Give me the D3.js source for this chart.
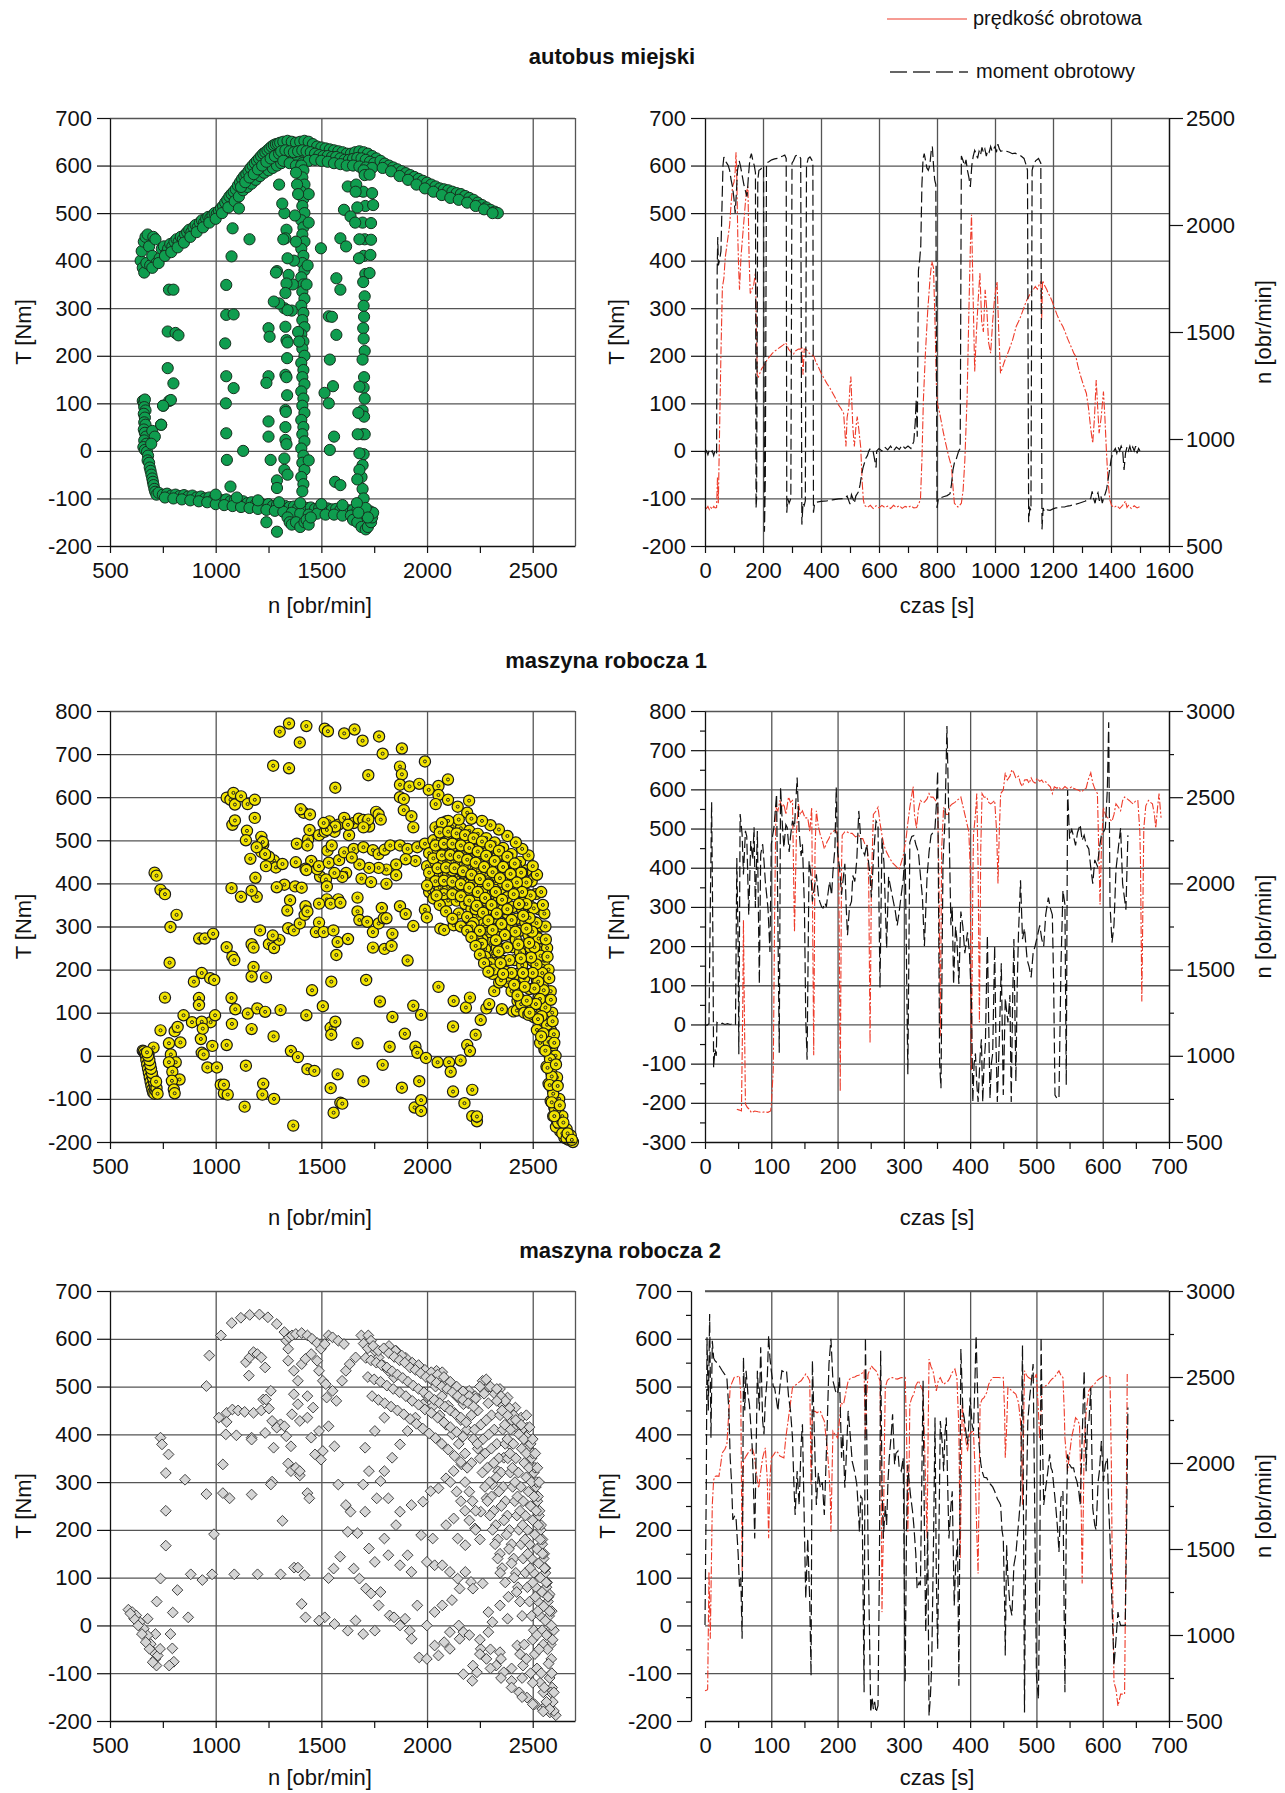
<!DOCTYPE html>
<html>
<head>
<meta charset="utf-8">
<script src="https://cdn.jsdelivr.net/npm/d3@7"></script>
<style>
  body { margin: 0; background: #fff; }
  text { font-family: "Liberation Sans", Arial, sans-serif; fill: #111; }
</style>
</head>
<body>
<div id="chart"></div>
<script>
'use strict';

// ---- data: [n obr/min, T Nm] points ----
const busPoints = [
  // rising band
  [645,400],[650,420],[655,385],[660,440],[662,375],[668,450],[672,395],[678,455],[685,430],[690,390],[700,410],[705,450],[715,445],[720,395],
  [735,405],[745,425],[755,430],[765,415],[775,425],[785,435],[795,430],[805,440],[815,445],[825,440],[835,450],[845,445],[855,455],[865,460],
  [875,465],[885,460],[895,470],[905,475],[915,470],[925,480],[935,485],[945,480],[955,488],[965,492],[975,490],[985,495],[995,500],[1005,498],
  [1015,505],[1025,510],[1035,515],[1045,522],[1055,528],[1065,535],[1075,540],[1085,545],[1095,550],[1105,558],[1115,565],[1125,572],[1135,578],
  [1145,582],[1155,588],[1165,595],[1175,600],[1185,605],[1195,610],[1205,615],[1215,620],[1225,625],[1235,628],[1245,632],[1255,636],[1265,640],
  [1275,643],[1285,645],[1295,646],[1305,648],
  [700,385],[730,395],[760,410],[790,418],[820,428],[850,438],[880,450],[910,460],[940,470],[970,480],[1000,488],[1030,500],[1060,512],[1090,525],
  [1110,535],[1130,548],[1150,555],[1170,562],[1190,570],[1210,578],[1230,585],[1250,590],[1270,595],[1290,600],[1310,605],[1330,610],[1350,612],
  [1370,614],[1390,615],
  [1120,555],[1140,565],[1160,575],[1180,582],[1200,592],[1220,600],[1240,608],[1260,615],[1280,620],[1300,625],
  // flat top
  [1320,650],[1340,652],[1360,650],[1380,648],[1400,650],[1420,652],[1440,650],[1460,645],[1480,640],[1500,638],[1520,636],[1540,634],[1560,632],
  [1580,630],[1600,628],[1620,625],[1640,625],[1660,628],[1680,630],[1700,628],[1720,625],[1740,620],[1760,615],
  [1310,630],[1330,632],[1350,630],[1370,628],[1390,630],[1410,632],[1430,630],[1450,628],[1470,625],[1490,622],[1510,620],[1530,620],[1550,618],
  [1570,618],[1590,615],[1610,612],[1630,612],[1650,614],[1670,616],[1690,615],[1710,612],[1730,608],[1750,605],
  [1320,610],[1350,605],[1380,600],[1410,605],[1440,610],[1470,612],[1500,610],[1530,608],[1560,605],[1590,603],[1620,600],[1650,600],[1680,598],
  [1710,596],[1740,595],
  // falling band
  [1780,610],[1800,604],[1820,600],[1840,596],[1860,592],[1880,588],[1900,584],[1920,580],[1940,576],[1960,572],[1980,568],[2000,564],[2020,560],
  [2040,556],[2060,552],[2080,550],[2100,548],[2120,545],[2140,542],[2160,540],[2180,536],[2200,532],[2220,528],[2240,522],[2260,517],[2280,512],
  [2300,507],[2320,503],[2335,500],
  [1790,595],[1830,588],[1870,578],[1910,570],[1950,560],[1990,552],[2030,545],[2070,538],[2110,532],[2150,528],[2190,522],[2230,515],[2270,508],[2310,500],
  // idle corner
  [655,105],[660,100],[665,108],[662,92],[668,85],[660,78],[665,70],[662,60],[668,55],[660,45],[665,38],[670,30],[662,22],[672,15],[658,8],[665,2],
  [675,-2],[680,-10],[678,-20],[685,-25],[688,-35],[692,-42],[696,-50],[700,-58],[703,-65],[706,-72],[710,-80],[714,-86],[720,-92],[700,42],[712,30],
  [695,15],[742,55],[752,95],[780,105],
  // motoring-off band
  [730,-88],[750,-92],[770,-90],[790,-94],[810,-92],[830,-95],[850,-93],[870,-96],[890,-94],[910,-98],[930,-96],[950,-100],[970,-98],[990,-102],
  [1010,-100],[1030,-104],[1050,-102],[1070,-106],[1090,-104],[1110,-108],[1130,-106],[1150,-110],[1170,-108],[1190,-112],[1210,-110],[1230,-114],
  [1250,-112],[1270,-116],[1290,-114],[1310,-118],[1330,-116],[1350,-118],[1370,-117],[1390,-120],[1410,-118],[1430,-120],[1450,-119],[1470,-122],
  [1490,-120],[1510,-122],[1530,-121],[1550,-123],[1570,-122],[1590,-124],[1610,-123],[1630,-125],[1650,-124],[1670,-126],[1690,-125],[1710,-128],[1730,-127],
  [760,-98],[800,-100],[840,-102],[880,-104],[920,-106],[960,-108],[1000,-112],[1040,-114],[1080,-116],[1120,-118],[1160,-120],[1200,-122],[1240,-124],
  [1280,-126],[1320,-128],[1360,-130],[1400,-132],[1440,-134],[1480,-132],[1520,-134],[1560,-134],[1600,-136],[1640,-136],[1680,-138],[1720,-140],
  [1340,-140],[1350,-150],[1360,-155],[1380,-150],[1400,-160],[1420,-150],[1430,-145],[1440,-155],[1450,-140],[1650,-145],[1670,-150],[1690,-160],
  [1710,-165],[1720,-160],[1735,-150],[1740,-140],[1745,-130],[1240,-150],[1290,-170],
  [1000,-92],[1100,-98],[1200,-104],[1300,-108],[1400,-110],[1500,-112],[1600,-114],[1700,-118],
  // column at ~1410
  [1405,600],[1415,590],[1410,575],[1420,560],[1405,545],[1415,530],[1410,515],[1420,500],[1405,485],[1415,470],[1410,455],[1420,440],[1405,425],
  [1415,410],[1410,395],[1420,380],[1405,365],[1415,350],[1410,335],[1420,320],[1405,305],[1415,290],[1410,275],[1420,260],[1405,245],[1415,230],
  [1410,215],[1420,200],[1405,185],[1415,170],[1410,155],[1420,140],[1405,125],[1415,110],[1410,95],[1420,80],[1405,65],[1415,50],[1410,35],[1420,20],
  [1405,5],[1415,-10],[1410,-25],[1420,-40],[1405,-55],[1415,-70],[1410,-85],[1440,540],[1440,480],[1435,390],[1430,350],[1440,-20],
  [1380,585],[1385,560],[1390,540],[1375,495],[1380,440],[1370,400],[1365,350],[1360,295],[1390,250],[1395,230],
  // column at ~1340
  [1325,500],[1335,465],[1330,447],[1340,405],[1345,370],[1335,352],[1330,332],[1325,300],[1340,296],[1330,261],[1335,233],[1340,228],[1338,195],
  [1330,160],[1335,155],[1338,117],[1330,86],[1332,82],[1330,50],[1330,23],[1335,14],[1325,-16],[1325,-40],[1340,-50],[1300,560],[1315,520],[1320,445],[1300,310],
  // scattered
  [1050,349],[1050,286],[1045,226],[1050,157],[1048,100],[1050,37],[1053,-19],[1070,-75],[1080,468],[1075,409],[1085,287],[1085,132],[1130,0],[1160,445],[1110,510],
  [1290,378],[1285,375],[1275,314],[1250,258],[1255,240],[1250,157],[1240,143],[1250,62],[1250,30],[1260,-19],[1290,-62],[1290,-78],
  [1571,363],[1590,339],[1535,283],[1550,282],[1571,244],[1540,192],[1555,136],[1515,122],[1535,100],[1560,30],[1540,2],[1565,-65],[1590,-72],
  [1498,426],[1590,447],[1617,430],[1607,507],[1638,493],[1625,556],[1671,546],
  [779,339],[800,339],[773,251],[810,248],[824,243],[773,174],[800,142],[788,107],[751,95],[742,55],
  // column at ~1700
  [1700,590],[1705,580],[1698,545],[1708,515],[1695,480],[1705,445],[1700,410],[1708,372],[1698,355],[1705,325],[1700,305],[1702,282],[1698,258],
  [1700,236],[1705,210],[1695,192],[1702,155],[1700,133],[1705,110],[1695,85],[1702,72],[1695,35],[1705,35],[1700,-7],[1695,-30],[1690,-55],[1695,-80],
  [1700,-100],[1710,-120],[1720,-140],[1728,581],[1740,542],[1745,517],[1735,479],[1735,444],[1732,412],[1728,374],
  [1665,560],[1662,545],[1670,512],[1660,480],[1680,445],[1678,405],[1680,135],[1675,80],[1672,35],[1680,-5],[1680,-40],[1670,-60],[1668,-110],[1675,-130]
];

const mr1Points = [
  [1303,752],[1347,771],[1429,765],[1398,727],[1516,759],[1531,753],[1608,748],[1657,757],[1695,731],[1773,741],[1790,701],[1881,713],[1990,683],
  [2099,641],[1272,673],[1347,667],[1566,622],[1722,651],
  [1872,671],[1881,653],[1872,629],[1917,625],[1963,631],[2008,617],[2054,626],[2054,605],[1872,600],[1890,596],[1890,570],[1926,556],[1935,530],
  [2041,584],[2099,594],[2145,578],[2190,564],[2199,592],[2090,544],
  [1052,599],[1070,594],[1084,610],[1091,583],[1120,602],[1151,584],[1185,594],[1079,536],[1091,546],[1185,552],[1148,522],[1143,500],[1216,508],
  [1225,490],[1216,473],[1164,457],[1188,413],[1194,369],[1120,369],[1075,389],[1170,383],[1276,453],[1285,437],[1316,445],[1325,397],[1376,393],
  [1352,361],[1339,337],[1343,296],[1370,291],[1398,307],[1407,390],[1379,449],[1384,492],[1437,502],[1444,524],[1434,488],[1416,564],[1402,572],
  [1446,560],[1452,452],[1425,434],[1429,431],[1425,347],[1421,327],[1434,335],[1252,462],[1238,440],[1234,468],[1289,391],[1223,496],[1194,484],
  [1489,512],[1516,520],[1538,544],[1562,520],[1580,536],[1608,552],[1631,512],[1653,540],[1677,550],[1699,547],[1726,532],[1759,566],[1771,560],
  [1781,548],[1722,548],[1699,530],[1626,536],[1566,532],[1526,524],[1511,540],[1529,476],[1549,488],[1494,416],[1480,433],
  [1489,440],[1535,448],[1584,454],[1608,472],[1653,480],[1699,484],[1744,477],[1771,468],[1799,478],[1826,488],[1872,488],[1908,480],[1954,484],
  [1990,492],[1945,452],[1899,456],[1854,444],[1808,432],[1771,436],[1726,436],[1680,444],[1644,460],[1617,424],[1599,415],[1690,411],[1735,403],
  [1808,399],[1854,419],[1562,424],[1522,409],[1526,393],[1526,363],[1580,363],[1544,353],[1590,355],[1489,353],[1489,309],[1474,287],[1511,287],
  [1557,291],[1577,264],[1571,234],[1626,271],[1671,367],[1671,335],[1680,315],[1717,311],[1744,287],[1771,307],[1786,343],[1795,319],[1808,319],
  [1744,251],[1799,248],[1836,283],[1832,255],[1872,347],[1899,329],[1935,301],[1990,339],[1999,321],[1908,221],[2063,295],[2081,292],[2126,303],
  [711,425],[720,418],[739,385],[760,375],[760,135],[782,216],[786,299],[815,327],[739,59],[706,19],[682,3],[779,29],[788,3],[806,57],[820,67],
  [833,31],[811,-15],[779,-15],[795,-37],[829,-55],[793,-58],[802,-78],[806,-87],[848,94],[888,78],[897,172],[922,272],[949,272],[934,192],[921,134],
  [921,118],[930,39],[934,7],[943,3],[961,-27],[974,180],[993,176],[988,283],[976,78],[934,79],[939,63],[997,94],[984,23],[1006,-27],[1024,-67],
  [1039,-87],[1057,-90],[1039,-67],[1052,25],[1052,252],[1079,230],[1088,222],[1075,134],[1077,74],[1093,108],[1143,-23],[1137,-118],[1152,98],
  [1170,62],[1170,259],[1179,251],[1179,206],[1170,184],[1197,110],[1234,102],[1238,182],[1210,291],[1225,-65],[1221,-90],[1276,-100],[1274,45],
  [1307,106],[1252,259],[1276,250],[1301,269],[1270,279],[1356,11],[1389,-3],[1367,-162],[1434,-31],[1467,-35],[1429,94],[1456,152],[1507,115],
  [1544,65],[1547,49],[1566,79],[1544,-75],[1577,-43],[1558,-132],[1590,-109],[1599,-111],[1547,172],[1671,29],[1699,-59],[1712,176],[1777,126],
  [1790,-21],[1823,21],[1836,90],[1881,-74],[1895,51],[1935,116],[1945,21],[1954,7],[1963,-59],[1972,95],[1941,-120],[1972,-103],[1972,-128],
  [1995,-5],[2050,-15],[2054,160],[2104,-15],[2112,-37],[2123,68],[2123,-83],[2126,127],[2159,-11],[2177,-110],[2184,112],[2190,25],[2203,11],
  [2214,-79],[2203,135],[2214,-140],[2236,-152],[2236,-141],[2230,49],[2254,83],[2281,110],[2294,120],[2318,150],[2341,170],[2354,108],[2409,103],[2428,127],
  // idle cluster
  [655,12],[660,10],[665,5],[670,0],[672,-10],[676,-20],[680,-30],[684,-40],[688,-50],[692,-60],[696,-70],[700,-78],[704,-85],[710,-88],[715,-80],
  [712,-70],[708,-60],[702,-50],[698,-40],[694,-30],[690,-20],[686,-10],[680,0],[675,8],[720,-75],[718,-60],[725,-88],
  // dense full-load region
  [2040,530],[2080,535],[2120,532],[2160,528],[2200,522],[2240,515],[2280,505],[2320,495],[2360,482],[2400,468],[2440,450],[2470,430],[2495,405],
  [2515,375],[2530,340],[2540,300],[2548,260],[2555,220],[2562,180],[2570,140],[2578,100],[2585,60],[2592,20],[2598,-20],[2605,-60],[2612,-100],
  [2620,-130],[2632,-160],[2650,-180],[2670,-195],[2690,-200],
  [2030,500],[2070,505],[2110,505],[2150,500],[2190,495],[2230,488],[2270,478],[2310,468],[2350,455],[2390,440],[2420,422],[2450,400],[2475,375],
  [2495,345],[2510,310],[2522,275],[2532,240],[2540,200],[2548,160],[2556,120],[2565,80],[2572,40],[2580,0],[2588,-40],[2595,-80],[2602,-120],
  [2615,-150],[2630,-175],[2650,-190],
  [2010,470],[2050,478],[2090,480],[2130,478],[2170,472],[2210,465],[2250,455],[2290,445],[2330,432],[2370,418],[2400,400],[2430,380],[2455,355],
  [2475,325],[2490,290],[2502,255],[2512,215],[2520,175],[2528,135],[2535,95],[2545,55],[2555,15],[2565,-25],[2575,-65],[2585,-105],[2597,-140],[2610,-165],
  [2000,440],[2040,448],[2080,452],[2120,450],[2160,445],[2200,438],[2240,430],[2280,420],[2320,405],[2350,388],[2380,368],[2405,345],[2425,318],
  [2440,290],[2455,258],[2465,225],[2475,190],[2485,155],[2495,120],[2505,90],[2520,60],[2535,30],
  [2020,410],[2060,420],[2100,422],[2140,418],[2180,410],[2220,400],[2260,388],[2300,372],[2330,355],[2355,335],[2375,310],[2390,282],[2405,252],
  [2415,222],[2425,190],[2435,160],[2445,130],[2455,105],
  [2060,390],[2100,392],[2140,388],[2180,380],[2220,370],[2250,358],[2280,342],[2305,322],[2325,300],[2340,275],[2352,248],[2362,220],[2372,195],[2385,170],[2400,150],
  [2100,360],[2140,360],[2180,352],[2210,340],[2240,325],[2265,305],[2285,285],[2300,262],[2312,238],[2322,215],[2335,192],[2350,175],
  [2150,330],[2190,322],[2220,308],[2245,290],[2262,270],[2275,248],[2285,225],[2295,205],[2310,190],
  [2380,330],[2400,300],[2420,270],[2440,240],[2450,210],[2460,180],[2450,340],[2465,310],[2480,280],[2490,250],[2500,220],[2508,190],[2515,160],
  [2230,340],[2260,380],[2330,250],[2360,340],[2210,300],[2240,270],[2350,300],[2290,340],[2320,320],
  [2560,300],[2568,250],[2575,200],[2585,150],[2592,100],[2600,50],[2608,0],[2615,-50],[2625,-100],[2640,-140],[2660,-170],[2680,-185],[2540,380],
  [2520,420],[2500,440],[2480,465],[2450,480],[2420,495],[2380,510],[2340,525],[2300,535],[2260,545],[2210,550],[2150,548],[2100,545],[2070,540],
  [2120,430],[2170,425],[2210,420],[2250,410],[2290,400],[2320,385],[2150,395],[2200,385],[2240,372],[2280,360],[2120,485],[2180,490],[2230,478],
  [2280,470],[2330,460],[2380,450],[2420,440],[2450,425],[2260,260],[2275,230],[2300,215],[2315,200],[2250,290],
  [2425,105],[2440,130],[2445,120],[2460,100],[2480,95],
  [2060,518],[2100,520],[2140,516],[2180,512],[2220,505],[2260,497],[2300,487],[2340,476],[2380,462],[2415,446],[2445,425],[2470,402],[2490,372],
  [2505,342],[2518,308],[2528,272],[2537,232],[2545,192],[2552,152],[2560,112],[2568,72],[2575,32],[2582,-8],[2590,-48],[2597,-88],[2606,-125],
  [2620,-155],[2640,-180],[2660,-192],
  [2040,488],[2080,492],[2120,492],[2160,488],[2200,482],[2240,474],[2280,464],[2320,452],[2360,438],[2395,422],[2425,402],[2450,380],[2470,352],
  [2485,320],[2498,288],[2508,252],[2518,212],[2526,172],[2534,132],[2542,92],[2550,52],[2560,12],[2570,-28],[2580,-68],[2590,-108],[2602,-140],
  [2030,458],[2070,465],[2110,466],[2150,462],[2190,455],[2230,448],[2270,438],[2310,426],[2345,412],[2380,395],[2410,375],[2435,352],[2455,325],
  [2470,295],[2483,262],[2492,228],[2500,192],[2508,156],[2515,120],[2525,85],[2540,45],
  [2010,425],[2050,435],[2090,437],[2130,435],[2170,428],[2210,420],[2250,410],[2290,397],[2325,380],[2355,362],[2380,340],[2400,315],[2418,288],
  [2432,258],[2444,226],[2454,192],[2462,160],[2472,128],[2485,100],
  [2040,405],[2080,406],[2120,404],[2160,398],[2200,390],[2240,380],[2275,366],[2305,350],[2330,330],[2352,306],[2368,280],[2380,252],[2390,222],
  [2400,192],[2412,165],[2428,140],
  [2080,375],[2120,375],[2160,370],[2200,360],[2235,348],[2265,332],[2290,314],[2310,292],[2326,268],[2338,242],[2348,215],[2360,190],
  [2010,380],[2030,365],[2060,350],[2090,335],[2120,318],[2160,300],[2190,290],[2210,275],[2230,255],[2250,235],[2270,215],[2290,195],[2000,395],[2045,372],
  [2555,330],[2548,350],[2562,270],[2570,230],[2578,180],[2586,130],[2594,80],[2602,30],[2610,-20],[2618,-70],[2628,-115],[2645,-155],[2665,-180],[2685,-195]
];

const mr2Points = [
  [1025,607],[1076,633],[1119,644],[1161,650],[1207,651],[1247,645],[1289,631],[1325,614],
  [970,565],[956,501],[956,275],[764,240],[764,167],[739,393],[746,379],[777,358],[764,319],[855,305],[739,98],[721,50],[797,27],[819,74],[870,17],
  [678,14],[715,-18],[786,-18],[795,-48],[802,-76],[780,-84],
  [587,33],[605,28],[624,21],[642,7],[660,-7],[678,-21],[693,-39],[706,-56],[715,-70],[720,-84],[702,-77],[687,-49],[669,-35],[651,-18],[633,0],
  [614,14],[596,25],[726,-63],[737,-49],
  [882,107],[937,95],[983,107],[1088,107],[1198,107],[1307,107],[1371,121],[1420,105],[992,191],
  [1015,435],[1052,445],[1079,452],[1106,450],[1137,447],[1179,445],[1216,450],[1252,454],[1052,426],[1048,400],[1098,398],[1170,393],[1234,403],
  [1274,372],[1267,428],[1261,491],[1225,473],[1307,421],[1289,414],[1325,417],[1334,396],[1356,375],[1343,339],[1356,323],[1379,330],[1398,314],
  [1398,323],[1434,277],[1443,266],[1267,301],[1261,295],[1316,219],[1034,337],[1034,277],[1066,266],[1170,274],
  [1143,551],[1161,561],[1179,572],[1197,568],[1216,561],[1157,523],[1234,540],[1238,473],[1170,389],
  [1334,596],[1347,603],[1361,607],[1379,610],[1407,612],[1434,607],[1456,600],[1480,591],[1498,579],[1516,589],[1534,607],[1553,603],[1580,596],
  [1607,589],[1343,579],[1343,554],[1370,533],[1389,512],[1407,547],[1425,558],[1452,568],[1480,554],[1489,533],[1507,512],[1521,505],[1370,484],
  [1389,463],[1361,442],[1398,428],[1434,435],[1461,456],[1434,480],[1452,393],[1489,407],[1470,358],[1507,365],[1498,347],[1525,477],[1553,491],
  [1571,470],[1598,512],[1616,533],[1634,547],[1662,561],[1689,607],[1722,607],[1735,596],[1753,575],[1771,561],[1794,544],[1817,533],[1844,519],
  [1853,575],[1881,561],[1908,551],[1935,540],[1963,533],[1990,526],[2017,516],[2045,533],[2072,530],[2090,512],[2118,491],[2145,477],[2172,463],
  [2199,491],[2227,480],[2263,512],[2290,500],[2318,491],[2345,495],[2381,477],[2418,456],[2445,435],[2473,414],
  [1534,417],[1562,375],[1580,295],[1616,252],[1638,238],[1671,193],[1707,238],[1725,161],[1753,133],[1780,70],[1771,42],[1753,-11],[1698,-18],
  [1662,10],[1625,-11],[1562,3],[1516,17],[1489,10],[1407,45],[1425,17],[1389,121],[1534,99],[1558,119],[1589,144],[1625,196],[1653,119],[1680,98],
  [1711,77],[1735,67],[1823,21],[1844,17],[1872,0],[1896,14],[1918,-11],[1927,-28],[1954,42],[1963,-67],[1999,-70],[2036,-42],[2081,-35],[2108,-14],
  [2154,-28],[2172,-102],[2214,-116],[2236,-98],[2281,-70],[2327,-84],[2363,-98],[2400,-116],[2436,-140],[2473,-151],[2509,-165],[2545,-175],
  [2581,-182],[2609,-188],[2600,-179],[2563,-168],
  [1999,0],[2036,28],[2072,42],[2118,53],[2154,77],[2208,91],[2263,88],[2290,28],[2309,7],[2345,42],[2381,14],[2427,-42],[2454,-84],[2345,-56],
  [2290,-14],[2254,-49],[2217,-84],[2108,-49],[2054,-63],[2172,-14],
  [1780,302],[1817,266],[1872,238],[1926,252],[1981,259],[1972,189],[1908,147],[1872,126],[1926,112],[1999,133],[2036,126],[2072,126],[2108,112],
  [2145,98],[2181,112],[2217,77],[2027,182],[2090,210],[2126,224],[2145,182],[2181,168],[2227,203],[2254,238],[2281,266],[2309,295],[2336,323],
  [2363,351],[2390,379],[2090,308],[2126,323],[2163,337],[2054,287],[2017,281],[1798,323],[1835,351],[1872,379],[1908,407],[1945,435],[1981,463],
  [1707,372],[1753,407],[1798,435],[1725,323],[1698,295],[1762,266],[1853,210],[1798,182],[1817,147],
  // dense streaks
  [2280,515],[2300,500],[2320,485],[2340,470],[2360,460],[2380,445],[2400,430],[2420,415],[2440,400],[2460,390],[2480,370],[2495,350],[2505,320],
  [2515,290],[2522,260],[2530,230],[2538,200],[2545,170],[2552,140],[2560,110],[2565,80],[2572,50],[2578,20],[2582,-10],[2585,-40],[2588,-70],
  [2590,-100],[2592,-130],[2595,-160],
  [2330,495],[2350,480],[2370,470],[2390,455],[2410,440],[2430,425],[2450,410],[2470,395],[2490,380],[2500,360],[2510,330],[2518,300],[2525,270],
  [2532,240],[2540,210],[2546,180],[2554,150],[2560,120],[2568,90],[2574,60],
  [2200,480],[2220,470],[2240,450],[2255,420],[2265,390],[2275,360],[2285,330],[2295,300],[2305,270],[2315,240],[2325,210],[2335,180],[2345,150],
  [2355,120],[2370,90],[2385,60],
  [2250,500],[2270,485],[2290,465],[2305,440],[2318,410],[2330,380],[2340,350],[2350,320],[2360,290],[2370,260],[2380,230],[2390,200],[2400,170],
  [2410,140],[2420,110],[2430,80],[2440,50],[2450,20],
  [2330,470],[2345,440],[2358,410],[2370,380],[2382,350],[2394,320],[2405,290],[2415,260],[2425,230],[2435,200],[2445,170],[2455,140],[2465,110],
  [2475,80],[2485,50],[2495,20],[2505,-10],
  [2380,440],[2395,410],[2408,380],[2420,350],[2432,320],[2444,290],[2455,260],[2465,230],[2475,200],[2485,170],[2495,140],[2505,110],[2515,80],
  [2525,50],[2535,20],[2545,-10],[2550,-40],
  [2420,430],[2435,400],[2448,370],[2460,340],[2470,310],[2480,280],[2490,250],[2500,220],[2510,190],[2520,160],[2528,130],[2536,100],[2544,70],
  [2552,40],[2560,10],[2565,-20],[2570,-50],[2575,-80],[2580,-110],[2585,-140],
  [1900,560],[1930,550],[1960,545],[1990,535],[2020,530],[2050,525],[2080,520],[2110,510],[2140,500],[2170,490],[2230,475],[1820,585],[1850,575],[1880,565],
  [2000,480],[2030,460],[2060,440],[2090,420],[2120,400],[2150,380],[2180,360],[2210,340],[2040,500],[2070,480],[2100,460],[2130,445],[2160,430],
  [2190,410],[2220,390],[2240,370],[2110,300],[2140,280],[2160,260],[2180,240],[2200,220],[2230,200],[2250,180],[2180,300],[2200,280],[2215,260],[2230,240],
  [2500,-30],[2510,-60],[2520,-90],[2535,-120],[2550,-140],[2565,-160],[2580,-175],[2540,-100],[2555,-130],[2470,-70],[2490,-100],[2440,-60],
  [2460,-40],[2520,-20],[2530,-50],[2580,65],[2590,30],[2600,-10],[2590,-100],[2600,-140],
  [1700,590],[1720,580],[1745,585],[1770,575],[1795,580],[1820,570],[1845,562],[1870,555],[1895,550],[1920,540],[1945,535],[1970,528],[1995,520],
  [2020,515],[2045,508],[2070,500],[2095,495],[2120,488],[2145,480],[2170,472],[2195,465],[2220,458],
  [1710,560],[1735,555],[1760,550],[1785,545],[1810,540],[1835,532],[1860,525],[1885,518],[1910,510],[1935,502],[1960,495],[1985,488],[2010,480],
  [2035,472],[2060,465],[2085,458],[2110,450],[2135,442],[2160,435],[2185,425],
  [1720,520],[1750,515],[1780,510],[1810,502],[1840,495],[1870,488],[1900,480],[1930,470],[1960,462],[1990,452],[2020,445],[2050,435],[2080,425],
  [2110,415],[2140,405],[2170,395],
  [1740,480],[1770,472],[1800,465],[1830,458],[1860,450],[1890,442],[1920,432],[1950,422],[1980,412],[2010,402],[2040,392],[2070,380],[2100,368],
  [2130,355],[2160,342],[2190,330],
  [2210,440],[2225,410],[2238,380],[2250,350],[2262,320],[2274,290],[2286,260],[2298,230],[2310,200],[2322,170],[2334,140],[2346,110],
  [2280,430],[2292,400],[2304,370],[2316,340],[2328,310],[2340,280],[2352,250],[2364,220],[2376,190],[2388,160],[2400,130],[2412,100],[2424,70],
  [2355,450],[2368,420],[2380,390],[2392,360],[2404,330],[2416,300],[2428,270],[2440,240],[2452,210],[2464,180],[2476,150],[2488,120],[2500,90],
  [2512,60],[2524,30],
  [2445,420],[2458,390],[2470,360],[2482,330],[2494,300],[2506,270],[2516,240],[2526,210],[2536,180],[2546,150],[2556,120],[2564,90],[2572,60],
  [2580,30],[2588,0],[2594,-30],
  [2470,440],[2485,415],[2500,390],[2512,360],[2522,330],[2530,300],
  [2250,-60],[2300,-90],[2350,-110],[2400,-130],[2450,-150],[2500,-165],[2550,-180],[2150,0],[2200,-20],[2250,-30],[2300,-50],[2350,-70],[2400,-90],
  [2450,-110],[2500,-120]
];

// ---- time series: [czas s, value] ----
const busTorque = [
  [0,-5],[5,0],[10,-8],[15,2],[20,-3],[25,0],[30,-10],[35,2],[40,-5],[42,380],[44,450],[46,390],[50,400],[55,420],[58,500],[62,600],[65,618],[70,610],
  [75,605],[80,600],[85,590],[90,570],[95,555],[100,530],[104,500],[108,540],[112,590],[118,610],[122,600],[128,580],[134,560],[140,545],[145,535],
  [150,580],[155,615],[160,625],[165,610],[170,600],[174,585],[176,-120],[178,-100],[182,570],[186,590],[192,592],[198,598],[202,600],[205,-170],
  [208,-60],[212,605],[220,608],[230,612],[240,614],[250,615],[260,618],[268,620],[275,622],[280,615],[282,-130],[285,-100],[290,-110],[296,-100],
  [300,605],[305,610],[312,620],[318,622],[325,620],[330,615],[334,-155],[338,-110],[342,-115],[346,-105],[350,600],[356,615],[362,618],[368,612],
  [372,605],[374,-130],[378,-110],[385,-108],[400,-106],[420,-105],[440,-103],[460,-101],[480,-100],[490,-95],[500,-112],[505,-92],[510,-100],
  [515,-110],[520,-95],[525,-90],[530,-85],[535,-70],[540,-50],[545,-35],[550,-25],[555,-15],[560,-10],[565,0],[570,5],[580,-2],[590,-35],[592,0],
  [600,5],[610,0],[620,8],[630,2],[640,10],[650,0],[660,8],[670,3],[680,12],[690,5],[700,10],[710,5],[720,20],[725,60],[728,107],[732,30],[736,380],
  [740,400],[744,430],[748,560],[752,615],[756,625],[760,612],[765,595],[770,590],[775,600],[780,630],[784,640],[788,600],[792,570],[796,560],
  [800,-120],[805,-100],[815,-98],[825,-96],[835,-94],[845,-90],[850,-70],[855,-40],[860,-25],[865,-20],[870,-10],[875,0],[880,5],[884,620],
  [890,610],[895,600],[900,612],[905,590],[910,575],[915,555],[920,600],[925,620],[930,632],[935,625],[940,615],[945,630],[950,622],[955,638],
  [960,628],[965,635],[970,620],[975,632],[980,628],[985,640],[990,630],[995,635],[1000,640],[1005,628],[1010,645],[1015,635],[1020,630],[1030,632],
  [1040,630],[1050,628],[1060,625],[1070,626],[1080,622],[1090,620],[1100,615],[1108,600],[1112,590],[1116,-150],[1120,-120],[1124,-125],[1128,590],
  [1132,600],[1140,610],[1150,615],[1158,605],[1162,-165],[1166,-120],[1170,-128],[1180,-124],[1190,-125],[1200,-122],[1210,-120],[1220,-120],
  [1230,-118],[1240,-118],[1250,-116],[1260,-115],[1270,-113],[1280,-112],[1290,-110],[1300,-108],[1310,-106],[1320,-103],[1330,-100],[1335,-85],
  [1340,-100],[1345,-110],[1350,-95],[1355,-88],[1360,-105],[1365,-95],[1370,-110],[1375,-98],[1380,-90],[1385,-80],[1390,-60],[1395,-40],[1400,-20],
  [1405,-5],[1410,0],[1415,5],[1420,-5],[1425,8],[1430,0],[1435,10],[1440,2],[1445,-40],[1450,-5],[1455,8],[1460,0],[1465,10],[1470,-2],[1475,8],
  [1480,0],[1485,10],[1490,-5],[1495,5],[1500,0]
];

const busSpeed = [
  [0,680],[5,675],[10,685],[15,670],[20,680],[25,672],[30,685],[35,678],[40,680],[43,820],[46,700],[50,1020],[55,1400],[60,1710],[65,1750],[70,1850],
  [75,1900],[80,1950],[85,2000],[90,2100],[95,2180],[100,2200],[104,2250],[107,2340],[110,2200],[113,1950],[116,1800],[119,1697],[124,1850],
  [130,1950],[136,2050],[142,2150],[148,2180],[152,1850],[156,1680],[162,1700],[168,1720],[174,1780],[177,1550],[180,1300],[184,1290],[190,1310],
  [196,1330],[202,1340],[208,1355],[214,1370],[220,1380],[226,1390],[232,1400],[240,1410],[250,1420],[260,1430],[270,1440],[278,1450],[282,1440],
  [288,1420],[294,1410],[300,1400],[305,1395],[310,1410],[316,1415],[322,1420],[328,1420],[334,1425],[338,1300],[342,1420],[348,1420],[354,1410],
  [360,1400],[366,1395],[372,1390],[376,1385],[382,1360],[390,1340],[400,1310],[410,1285],[420,1260],[430,1240],[440,1215],[450,1190],[460,1160],
  [470,1140],[478,1120],[486,965],[490,1100],[496,1150],[500,1250],[503,1292],[506,1180],[510,1050],[515,965],[520,1050],[525,1105],[530,1050],
  [537,960],[542,800],[546,715],[550,690],[560,680],[570,690],[580,675],[590,688],[600,678],[610,690],[620,680],[630,686],[640,675],[650,690],
  [660,680],[670,688],[680,676],[690,685],[700,680],[710,688],[720,678],[730,680],[738,700],[743,720],[748,900],[753,1180],[760,1400],[768,1600],
  [776,1750],[782,1830],[788,1800],[794,1500],[798,1250],[801,1167],[808,1130],[815,1080],[822,1030],[830,980],[840,920],[850,871],[856,760],
  [860,700],[866,690],[872,682],[878,690],[884,700],[890,760],[896,900],[904,1200],[910,1600],[915,1900],[919,2048],[924,1700],[930,1315],
  [936,1500],[942,1650],[948,1775],[954,1550],[960,1500],[966,1697],[972,1600],[978,1450],[985,1401],[992,1550],[998,1650],[1003,1700],[1007,1736],
  [1013,1500],[1019,1307],[1025,1330],[1032,1360],[1038,1380],[1044,1401],[1052,1430],[1060,1460],[1067,1495],[1073,1526],[1080,1545],[1088,1570],
  [1096,1600],[1104,1630],[1110,1650],[1118,1670],[1126,1690],[1133,1700],[1139,1713],[1146,1700],[1152,1720],[1158,1736],[1161,1556],[1164,1740],
  [1170,1720],[1178,1700],[1184,1680],[1190,1666],[1198,1640],[1206,1610],[1214,1580],[1222,1555],[1228,1540],[1234,1526],[1242,1500],[1250,1470],
  [1258,1445],[1266,1420],[1272,1400],[1279,1385],[1286,1340],[1294,1300],[1302,1265],[1308,1240],[1315,1214],[1322,1150],[1330,1050],[1337,980],
  [1343,1100],[1349,1276],[1354,1150],[1359,1027],[1366,1100],[1374,1222],[1379,1100],[1384,949],[1390,800],[1396,715],[1402,690],[1410,680],
  [1420,688],[1430,675],[1440,690],[1450,710],[1455,680],[1460,690],[1470,675],[1480,688],[1490,678],[1500,685]
];

const mr1Torque = [
  [0,0],[3,-2],[6,2],[8,300],[10,567],[12,200],[13,-110],[15,-63],[17,-80],[18,5],[22,0],[26,3],[30,0],[34,2],[38,0],[42,2],[46,0],[48,425],[50,200],
  [51,-76],[53,537],[56,485],[58,383],[61,494],[63,480],[66,280],[69,468],[72,420],[74,503],[76,297],[79,494],[82,104],[84,434],[87,460],[89,417],
  [91,365],[95,297],[98,185],[100,460],[104,503],[108,588],[112,-72],[114,605],[117,500],[119,451],[122,510],[124,503],[127,440],[129,480],[132,520],
  [135,503],[139,630],[142,494],[145,430],[147,460],[150,300],[152,14],[154,-90],[157,417],[160,380],[162,314],[165,350],[168,383],[171,330],[173,314],
  [176,300],[178,297],[181,310],[183,300],[186,340],[188,365],[191,330],[193,390],[196,450],[198,605],[200,440],[203,400],[206,331],[209,380],
  [211,410],[213,300],[215,228],[218,300],[221,314],[223,380],[226,365],[229,420],[232,545],[236,450],[239,440],[241,432],[244,460],[246,425],
  [249,380],[251,324],[255,450],[258,519],[261,510],[264,94],[267,475],[270,412],[274,196],[277,377],[280,350],[283,324],[287,290],[290,253],
  [293,288],[296,330],[299,370],[302,439],[306,-127],[309,465],[312,480],[315,482],[318,460],[322,439],[325,380],[328,324],[331,200],[335,377],
  [338,440],[341,483],[344,490],[347,501],[349,560],[351,647],[354,-101],[356,-163],[359,412],[362,519],[365,762],[368,519],[371,253],[373,300],
  [375,103],[378,250],[380,218],[383,103],[386,288],[389,250],[392,182],[396,235],[399,182],[402,58],[404,-198],[406,-100],[408,-74],[410,-150],
  [412,-198],[415,-80],[417,-38],[419,-198],[421,-100],[423,-50],[426,227],[428,0],[430,-189],[432,-100],[434,-74],[437,200],[439,-50],[441,-198],
  [444,-38],[447,156],[450,-180],[453,67],[457,5],[460,75],[462,-198],[464,50],[466,218],[469,-145],[471,100],[473,236],[476,368],[479,218],
  [482,245],[486,165],[489,147],[492,120],[495,182],[498,200],[502,230],[505,253],[508,218],[511,200],[514,280],[518,324],[521,297],[524,280],
  [526,100],[528,-180],[531,-189],[534,-189],[537,147],[540,342],[543,306],[545,-154],[547,598],[550,474],[553,500],[556,480],[559,457],[562,490],
  [566,510],[569,470],[572,483],[575,460],[579,448],[582,400],[585,359],[588,420],[592,404],[595,450],[598,483],[601,490],[604,501],[607,600],
  [609,771],[611,306],[614,209],[617,253],[620,395],[624,457],[627,501],[630,359],[633,320],[635,293],[638,483]
];

const mr1Speed = [
  [48,690],[52,685],[55,680],[57,1300],[58,1787],[59,1400],[61,720],[64,700],[67,690],[70,670],[75,680],[80,675],[85,672],[90,675],[95,672],[99,680],
  [100,711],[103,923],[105,1800],[107,2441],[110,2420],[113,2481],[116,2440],[119,2461],[122,2400],[126,2501],[129,2470],[132,2481],[135,1717],
  [138,2300],[141,2461],[144,2400],[147,2421],[151,2380],[155,2380],[158,2300],[161,2441],[164,1003],[166,2200],[168,2421],[171,2330],[174,2280],
  [177,2250],[180,2200],[184,2240],[187,2260],[190,2290],[193,2300],[197,2310],[200,2280],[202,2000],[204,792],[206,2100],[207,2280],[211,2300],
  [214,2300],[218,2290],[222,2290],[227,2270],[232,2280],[235,2260],[238,2260],[241,2230],[245,2220],[247,2000],[249,1073],[251,2000],[254,2400],
  [258,2420],[261,2441],[264,2350],[267,2280],[270,2220],[274,2180],[278,2150],[283,2119],[288,2100],[293,2079],[296,2120],[299,2160],[303,2250],
  [306,2350],[309,2441],[314,2562],[316,2400],[319,2320],[322,2430],[325,2481],[328,2470],[331,2471],[335,2490],[338,2521],[341,2500],[344,2501],
  [348,2480],[351,2461],[353,2000],[355,1114],[357,2200],[360,2441],[364,2400],[367,2400],[370,2450],[373,2461],[377,2470],[380,2481],[383,2490],
  [386,2501],[389,2450],[392,2400],[395,2350],[398,2300],[400,2100],[402,913],[404,2000],[405,2280],[408,2400],[410,2521],[412,2100],[414,1194],
  [416,2200],[418,2521],[421,2500],[425,2501],[428,2470],[431,2461],[434,2470],[437,2481],[440,2300],[442,1999],[444,2300],[446,2521],[450,2542],
  [453,2642],[456,2600],[460,2622],[463,2660],[466,2642],[469,2610],[473,2622],[476,2580],[479,2562],[482,2600],[486,2602],[489,2580],[492,2612],
  [495,2590],[498,2582],[501,2610],[505,2592],[508,2600],[511,2582],[514,2590],[518,2572],[521,2560],[524,2521],[527,2560],[531,2552],[534,2560],
  [537,2542],[540,2550],[543,2562],[546,2552],[550,2552],[553,2560],[556,2552],[560,2545],[563,2542],[566,2535],[569,2532],[572,2550],[575,2552],
  [578,2600],[582,2642],[585,2582],[588,2550],[592,2521],[594,2200],[596,1878],[598,2200],[601,2441],[604,2400],[607,2381],[611,2370],[614,2361],
  [617,2400],[620,2461],[624,2440],[627,2421],[630,2480],[633,2501],[637,2490],[640,2481],[643,2470],[646,2461],[650,2480],[653,2481],[656,2300],
  [657,2120],[659,1315],[661,2000],[662,2320],[665,2450],[669,2481],[672,2470],[675,2461],[678,2400],[680,2320],[683,2450],[685,2521],[688,2381]
];

const mr2Torque = [
  [0,1],[2,300],[3,603],[5,450],[7,652],[9,393],[11,596],[13,560],[15,554],[18,550],[20,547],[23,540],[26,533],[30,525],[33,519],[36,450],[38,351],
  [40,300],[42,221],[45,230],[47,221],[50,150],[52,81],[54,100],[56,-28],[58,561],[60,450],[62,533],[65,480],[67,463],[69,420],[71,379],[73,300],
  [75,182],[77,350],[79,533],[82,450],[84,582],[87,428],[89,400],[91,470],[94,520],[96,607],[98,560],[100,533],[103,500],[105,498],[108,470],
  [110,449],[113,500],[116,533],[120,530],[123,533],[126,480],[129,449],[132,393],[134,300],[136,231],[139,323],[142,252],[145,380],[147,421],
  [150,200],[152,56],[155,182],[158,50],[160,-105],[162,554],[165,400],[168,252],[171,320],[174,288],[177,300],[180,231],[184,400],[187,547],
  [190,600],[193,512],[197,490],[200,484],[203,519],[206,351],[208,400],[211,288],[214,380],[216,449],[219,400],[222,344],[226,320],[229,295],
  [231,250],[233,196],[235,270],[237,266],[240,-140],[242,603],[244,400],[246,168],[248,0],[250,-182],[252,-150],[254,-175],[256,-160],[258,-182],
  [261,-168],[263,100],[265,575],[267,300],[269,182],[272,250],[274,210],[276,300],[278,351],[281,400],[283,442],[286,337],[288,360],[291,365],
  [293,330],[296,323],[299,351],[302,-119],[304,200],[306,337],[308,300],[310,273],[313,240],[315,210],[318,150],[320,77],[323,90],[325,84],
  [327,300],[329,512],[331,200],[333,-14],[336,196],[338,-189],[340,-150],[342,-84],[345,200],[347,435],[349,100],[351,-49],[353,200],[355,428],
  [358,380],[360,323],[362,400],[364,435],[366,300],[368,182],[371,250],[373,281],[376,42],[378,120],[381,182],[383,-126],[386,579],[389,450],
  [391,435],[394,400],[396,379],[398,420],[400,477],[403,420],[405,407],[407,500],[409,607],[411,500],[413,386],[416,340],[418,323],[421,310],
  [425,309],[428,300],[431,295],[434,290],[437,281],[441,265],[444,258],[446,252],[448,200],[450,182],[452,50],[453,-63],[455,168],[457,100],
  [460,42],[463,21],[466,126],[469,150],[471,182],[474,230],[476,267],[479,586],[481,100],[482,-182],[484,200],[487,428],[490,480],[492,505],
  [495,547],[497,300],[500,-105],[503,-154],[505,100],[507,603],[509,400],[511,252],[514,288],[517,320],[520,358],[522,330],[524,323],[527,280],
  [529,252],[532,200],[534,154],[537,267],[540,281],[543,-140],[545,200],[547,358],[550,337],[553,330],[556,330],[559,310],[561,302],[564,280],
  [566,252],[569,393],[572,533],[575,323],[577,420],[579,421],[582,498],[585,245],[588,210],[590,200],[593,300],[595,323],[598,386],[601,302],
  [604,337],[607,351],[609,250],[611,182],[614,42],[617,-84],[620,-30],[623,28],[625,10],[627,0],[630,0],[634,0],[636,200],[638,456]
];

const mr2Speed = [
  [0,676],[3,680],[4,685],[6,1367],[8,978],[10,1500],[11,1757],[13,1900],[15,1922],[18,1925],[21,1922],[24,2000],[26,2059],[30,2080],[33,2108],
  [36,2300],[38,2439],[41,2470],[44,2497],[48,2500],[52,2507],[54,2400],[56,1367],[57,1800],[58,2010],[62,2040],[65,2059],[68,2070],[71,2088],
  [74,2050],[76,1990],[79,1900],[81,1854],[84,1950],[87,2030],[89,2060],[91,2088],[94,1900],[96,1562],[98,1900],[100,2030],[104,2050],[107,2069],
  [110,2060],[113,2040],[116,2035],[119,2030],[122,2150],[126,2263],[129,2350],[132,2439],[135,2450],[139,2458],[142,2470],[145,2478],[149,2500],
  [152,2517],[155,2500],[158,2478],[159,2200],[160,1874],[161,2100],[162,2302],[166,2300],[169,2292],[172,2300],[174,2302],[177,2270],[180,2244],
  [184,2100],[187,1952],[189,1800],[190,1601],[192,2000],[193,2185],[197,2160],[200,2146],[203,2250],[205,2351],[207,2345],[209,2341],[212,2400],
  [216,2478],[219,2490],[222,2497],[226,2500],[229,2507],[232,2510],[235,2517],[238,2525],[240,2536],[242,2146],[244,2400],[246,2517],[249,2545],
  [251,2565],[254,2550],[258,2536],[261,2510],[264,2478],[266,1800],[267,1133],[268,1400],[269,1562],[271,2200],[272,2439],[275,2480],[277,2488],
  [280,2495],[283,2497],[286,2490],[290,2488],[293,2492],[296,2497],[299,2495],[302,2497],[304,2200],[306,1601],[308,2000],[309,2341],[312,2380],
  [315,2400],[318,2450],[322,2478],[325,2450],[329,2419],[332,2000],[335,1562],[337,2300],[338,2604],[341,2560],[344,2536],[347,2470],[349,2419],
  [352,2480],[355,2497],[358,2470],[360,2458],[364,2470],[367,2478],[370,2500],[373,2527],[377,2546],[380,2497],[383,2200],[385,1445],[387,2000],
  [388,2341],[391,2200],[393,2146],[396,2068],[399,2166],[402,2180],[405,2185],[407,2000],[408,1893],[410,1600],[412,1357],[414,2000],[415,2341],
  [418,2370],[421,2380],[425,2410],[428,2458],[431,2480],[434,2497],[438,2497],[443,2497],[447,2495],[450,2497],[452,2300],[453,2030],[455,2200],
  [457,2439],[460,2430],[463,2419],[466,2410],[469,2400],[473,2350],[476,2244],[478,2000],[479,1757],[481,2300],[482,2536],[485,2510],[488,2497],
  [491,2490],[495,2478],[498,2500],[500,2517],[503,2300],[505,2146],[507,2300],[508,2439],[511,2440],[514,2449],[518,2460],[521,2478],[524,2490],
  [527,2497],[531,2520],[534,2536],[537,2510],[540,2497],[542,2300],[543,2146],[545,2050],[547,1952],[550,2050],[553,2146],[556,2200],[559,2263],
  [562,2250],[565,2224],[567,1900],[569,1299],[571,1800],[572,2107],[575,2300],[579,2419],[582,2440],[585,2449],[588,2460],[591,2478],[595,2490],
  [598,2497],[601,2505],[604,2507],[608,2500],[611,2497],[613,2000],[614,1562],[616,1000],[617,724],[620,685],[623,588],[625,620],[627,656],
  [630,656],[633,656],[635,1500],[637,2517]
];

const titles = ['autobus miejski', 'maszyna robocza 1', 'maszyna robocza 2'];
const legendLabels = ['prędkość obrotowa', 'moment obrotowy'];

// ---- layout ----
const W = 1285, H = 1793;
const FONT = '"Liberation Sans", Arial, sans-serif';
const INK = '#111';
const GRID = '#555';
const RED = '#ee3b2a';
const plain = d => String(d);

const svg = d3.select('#chart').append('svg')
  .attr('xmlns', 'http://www.w3.org/2000/svg')
  .attr('width', W).attr('height', H);
svg.append('rect').attr('width', W).attr('height', H).attr('fill', '#fff');

function styleAxis(g) {
  g.attr('font-family', FONT).attr('font-size', 22);
  g.select('.domain').attr('stroke', INK).attr('stroke-width', 1.3);
  g.selectAll('.tick line').attr('stroke', INK).attr('stroke-width', 1.2);
  g.selectAll('.tick text').attr('fill', INK);
}

function gridLines(g, x, y, xVals, yVals, box) {
  g.append('g').attr('transform', `translate(0,${box.bottom})`)
    .call(d3.axisBottom(x).tickValues(xVals).tickSize(-(box.bottom - box.top)).tickFormat(''))
    .call(s => s.select('.domain').remove())
    .call(s => s.selectAll('line').attr('stroke', GRID).attr('stroke-width', 1.3));
  g.append('g').attr('transform', `translate(${box.left},0)`)
    .call(d3.axisLeft(y).tickValues(yVals).tickSize(-(box.right - box.left)).tickFormat(''))
    .call(s => s.select('.domain').remove())
    .call(s => s.selectAll('line').attr('stroke', GRID).attr('stroke-width', 1.3));
}

function vLabel(text, cx, cy) {
  svg.append('text').attr('transform', `translate(${cx},${cy}) rotate(-90)`)
    .attr('text-anchor', 'middle').attr('font-size', 22).attr('font-family', FONT).text(text);
}

function hLabel(text, cx, baseline) {
  svg.append('text').attr('x', cx).attr('y', baseline)
    .attr('text-anchor', 'middle').attr('font-size', 22).attr('font-family', FONT).text(text);
}

function scatterPanel(box, yDomain, points, marker, xLabelBase) {
  const x = d3.scaleLinear().domain([500, 2700]).range([box.left, box.right]);
  const y = d3.scaleLinear().domain(yDomain).range([box.bottom, box.top]);
  const yTicks = d3.range(yDomain[0], yDomain[1] + 1, 100);
  const g = svg.append('g');
  gridLines(g, x, y, [1000, 1500, 2000, 2500, 2700], yTicks.slice(1), box);

  const pts = g.append('g');
  if (marker === 'green') {
    pts.selectAll('circle').data(points).join('circle')
      .attr('cx', d => x(d[0])).attr('cy', d => y(d[1])).attr('r', 5.6)
      .attr('fill', '#0f9d4f').attr('stroke', '#17301f').attr('stroke-width', 1);
  } else if (marker === 'yellow') {
    const m = pts.selectAll('g').data(points).join('g')
      .attr('transform', d => `translate(${x(d[0])},${y(d[1])})`);
    m.append('circle').attr('r', 5.6).attr('fill', '#f2e400').attr('stroke', '#1a1a1a').attr('stroke-width', 1.2);
    m.append('circle').attr('r', 1.5).attr('fill', 'none').attr('stroke', '#222').attr('stroke-width', 1);
  } else {
    const sym = d3.symbol().type(d3.symbolSquare).size(58);
    pts.selectAll('path').data(points).join('path')
      .attr('d', sym)
      .attr('transform', d => `translate(${x(d[0])},${y(d[1])}) rotate(45)`)
      .attr('fill', '#d5d5d5').attr('stroke', '#3a3a3a').attr('stroke-width', 0.9);
  }

  // axes
  g.append('g').attr('transform', `translate(${box.left},0)`)
    .call(d3.axisLeft(y).tickValues(yTicks).tickFormat(plain).tickSize(13).tickPadding(5).tickSizeOuter(0))
    .call(s => styleAxis(s));
  g.append('g').attr('transform', `translate(0,${box.bottom})`)
    .call(d3.axisBottom(x).tickValues([500, 1000, 1500, 2000, 2500]).tickFormat(plain).tickSize(7).tickPadding(9).tickSizeOuter(0))
    .call(s => styleAxis(s));
  g.append('g').attr('transform', `translate(0,${box.bottom})`)
    .call(d3.axisBottom(x).tickValues([750, 1250, 1750, 2250]).tickSize(7).tickFormat(''))
    .call(s => { s.select('.domain').remove(); styleAxis(s); });

  vLabel('T [Nm]', 31, (box.top + box.bottom) / 2);
  hLabel('n [obr/min]', 320, xLabelBase);
}

function linePanel(box, tMax, tStep, yDomain, nDomain, torque, speed, minor, xLabelBase) {
  const x = d3.scaleLinear().domain([0, tMax]).range([box.left, box.right]);
  const yL = d3.scaleLinear().domain(yDomain).range([box.bottom, box.top]);
  const yR = d3.scaleLinear().domain(nDomain).range([box.bottom, box.top]);
  const g = svg.append('g');
  const xMajor = d3.range(0, tMax + 1, tStep);
  const xMinor = d3.range(tStep / 2, tMax, tStep);
  const yTicks = d3.range(yDomain[0], yDomain[1] + 1, 100);
  const nTicks = d3.range(nDomain[0], nDomain[1] + 1, 500);
  gridLines(g, x, yL, xMajor.slice(1), yTicks.slice(1), box);

  const lineT = d3.line().x(d => x(d[0])).y(d => yL(d[1]));
  const lineN = d3.line().x(d => x(d[0])).y(d => yR(d[1]));
  g.append('path').datum(speed).attr('d', lineN).attr('fill', 'none')
    .attr('stroke', RED).attr('stroke-width', 1.1).attr('stroke-dasharray', '8,2,2,2');
  g.append('path').datum(torque).attr('d', lineT).attr('fill', 'none')
    .attr('stroke', INK).attr('stroke-width', 1.2).attr('stroke-dasharray', '11,4');

  const ax = box.axisX || box.left;
  g.append('g').attr('transform', `translate(${ax},0)`)
    .call(d3.axisLeft(yL).tickValues(yTicks).tickFormat(plain).tickSize(14).tickPadding(5).tickSizeOuter(0))
    .call(s => styleAxis(s));
  g.append('g').attr('transform', `translate(${box.right},0)`)
    .call(d3.axisRight(yR).tickValues(nTicks).tickFormat(plain).tickSize(14).tickPadding(3).tickSizeOuter(0))
    .call(s => styleAxis(s));
  g.append('g').attr('transform', `translate(0,${box.bottom})`)
    .call(d3.axisBottom(x).tickValues(xMajor).tickFormat(plain).tickSize(7).tickPadding(9).tickSizeOuter(0))
    .call(s => styleAxis(s));
  g.append('g').attr('transform', `translate(0,${box.bottom})`)
    .call(d3.axisBottom(x).tickValues(xMinor).tickSize(7).tickFormat(''))
    .call(s => { s.select('.domain').remove(); styleAxis(s); });
  if (minor) {
    g.append('g').attr('transform', `translate(${ax},0)`)
      .call(d3.axisLeft(yL).tickValues(d3.range(yDomain[0] + 50, yDomain[1], 100)).tickSize(5).tickFormat(''))
      .call(s => { s.select('.domain').remove(); styleAxis(s); });
    g.append('g').attr('transform', `translate(${box.right},0)`)
      .call(d3.axisRight(yR).tickValues(d3.range(nDomain[0] + 250, nDomain[1], 500)).tickSize(5).tickFormat(''))
      .call(s => { s.select('.domain').remove(); styleAxis(s); });
  }
  if (box.axisX) {
    // top border of the plot area, the left axis stands apart
    g.append('line').attr('x1', box.left).attr('x2', box.right).attr('y1', box.top).attr('y2', box.top)
      .attr('stroke', GRID).attr('stroke-width', 1.3);
  }

  vLabel('T [Nm]', box.axisX ? 615 : 624, (box.top + box.bottom) / 2);
  vLabel('n [obr/min]', 1271, (box.top + box.bottom) / 2);
  hLabel('czas [s]', (box.left + box.right) / 2, xLabelBase);
}

// ---- titles & legend ----
[[612, 64], [606, 668], [620, 1258]].forEach((p, i) => {
  svg.append('text').attr('x', p[0]).attr('y', p[1]).attr('text-anchor', 'middle')
    .attr('font-size', 22).attr('font-weight', 'bold').attr('font-family', FONT).text(titles[i]);
});
const leg = svg.append('g').attr('font-family', FONT).attr('font-size', 20);
leg.append('line').attr('x1', 887).attr('x2', 967).attr('y1', 19).attr('y2', 19)
  .attr('stroke', RED).attr('stroke-width', 1.2);
leg.append('text').attr('x', 973).attr('y', 25).text(legendLabels[0]);
leg.append('line').attr('x1', 890).attr('x2', 968).attr('y1', 72).attr('y2', 72)
  .attr('stroke', '#333').attr('stroke-width', 1.3).attr('stroke-dasharray', '17,6');
leg.append('text').attr('x', 976).attr('y', 78).text(legendLabels[1]);

// ---- panels ----
scatterPanel({left: 110, right: 575, top: 118, bottom: 546}, [-200, 700], busPoints, 'green', 613);
linePanel({left: 705, right: 1169, top: 118, bottom: 546}, 1600, 200, [-200, 700], [500, 2500], busTorque, busSpeed, false, 613);
scatterPanel({left: 110, right: 575, top: 711, bottom: 1142}, [-200, 800], mr1Points, 'yellow', 1225);
linePanel({left: 705, right: 1169, top: 711, bottom: 1142}, 700, 100, [-300, 800], [500, 3000], mr1Torque, mr1Speed, true, 1225);
scatterPanel({left: 110, right: 575, top: 1291, bottom: 1721}, [-200, 700], mr2Points, 'diamond', 1785);
linePanel({left: 705, right: 1169, top: 1291, bottom: 1721, axisX: 691}, 700, 100, [-200, 700], [500, 3000], mr2Torque, mr2Speed, true, 1785);
</script>
</body>
</html>
